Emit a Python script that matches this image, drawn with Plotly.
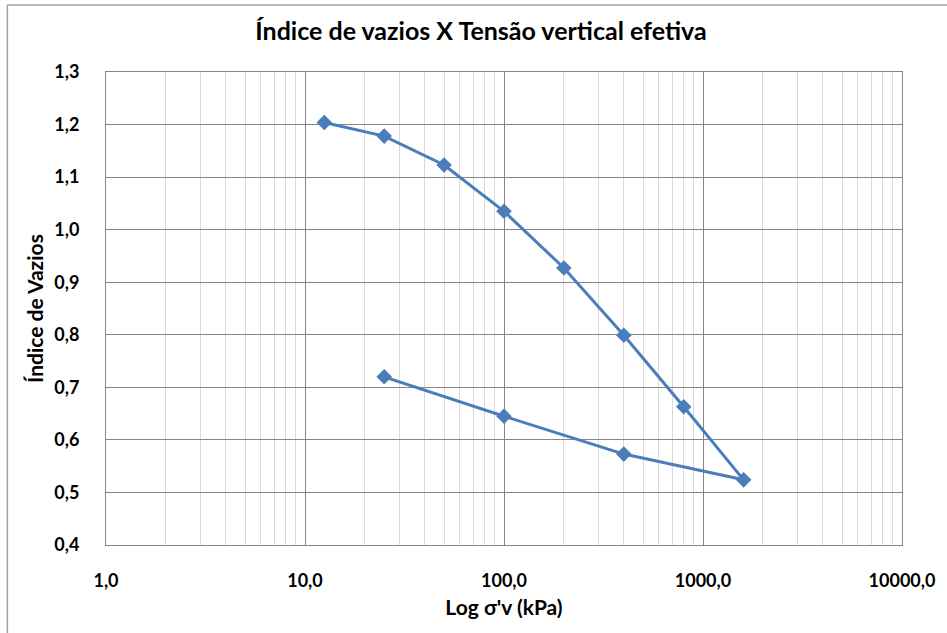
import plotly.graph_objects as go

# Data
tensao = [12.5, 25, 50, 100, 200, 400, 800, 1600, 400, 100, 25]
indice_vazios = [1.204, 1.178, 1.123, 1.035, 0.927, 0.799, 0.663, 0.524, 0.573, 0.645, 0.720]

x_tick_vals = [1, 10, 100, 1000, 10000]
x_tick_text = ["1,0", "10,0", "100,0", "1000,0", "10000,0"]
y_tick_vals = [0.4, 0.5, 0.6, 0.7, 0.8, 0.9, 1.0, 1.1, 1.2, 1.3]
y_tick_text = ["0,4", "0,5", "0,6", "0,7", "0,8", "0,9", "1,0", "1,1", "1,2", "1,3"]

title_text = "Índice de vazios X Tensão vertical efetiva"
x_title = "Log σ'v (kPa)"
y_title = "Índice de Vazios"

W, H = 947, 633
L, R, T, B = 106, 42, 72, 88
pw, ph = W - L - R, H - T - B

blue = "#4A7EBB"
major = "#868686"
minor = "#d9d9d9"
font_family = "Lato, Carlito, Liberation Sans Narrow, sans-serif"

fig = go.Figure()
fig.add_trace(go.Scatter(
    x=tensao, y=indice_vazios, mode="lines+markers",
    line=dict(color=blue, width=3),
    marker=dict(symbol="diamond", size=12, color=blue),
    showlegend=False, cliponaxis=False,
))

def px_to_paper_x(px):
    return (px - L) / pw

def py_to_paper_y(py):
    return (H - B - py) / ph

fig.update_layout(
    width=W, height=H,
    margin=dict(l=L, r=R, t=T, b=B),
    paper_bgcolor="white", plot_bgcolor="white",
    font=dict(family=font_family, color="#000000", size=18, weight="bold"),
    title=dict(text=title_text, x=481 / W, xanchor="center", xref="container",
               y=1 - 31 / H, yanchor="middle", yref="container",
               font=dict(size=25, family=font_family, weight="bold")),
    xaxis=dict(
        type="log", range=[0, 4],
        tickvals=x_tick_vals, ticktext=x_tick_text,
        showgrid=True, gridcolor=major, gridwidth=1,
        minor=dict(dtick="D1", showgrid=True, gridcolor=minor, gridwidth=1, ticks=""),
        showline=True, linecolor=major, linewidth=1, mirror=True,
        ticks="", ticklabelstandoff=19,
        zeroline=False,
        title=dict(text=x_title, standoff=10, font=dict(size=21, weight="bold")),
        tickfont=dict(size=18, weight="bold"),
    ),
    yaxis=dict(
        range=[0.4, 1.3],
        tickvals=y_tick_vals, ticktext=y_tick_text,
        showgrid=True, gridcolor=major, gridwidth=1,
        showline=True, linecolor=major, linewidth=1, mirror=True,
        ticks="", ticklabelstandoff=22,
        zeroline=False,
        title=dict(text=y_title, standoff=4, font=dict(size=21, weight="bold")),
        tickfont=dict(size=18, weight="bold"),
    ),
    shapes=[
        dict(type="line", xref="paper", yref="paper",
             x0=px_to_paper_x(7), x1=px_to_paper_x(7),
             y0=py_to_paper_y(5), y1=py_to_paper_y(H + 5),
             line=dict(color="#a0a0a0", width=1.5)),
        dict(type="line", xref="paper", yref="paper",
             x0=px_to_paper_x(7), x1=px_to_paper_x(W + 5),
             y0=py_to_paper_y(5), y1=py_to_paper_y(5),
             line=dict(color="#a0a0a0", width=1.5)),
    ],
)

fig.write_html("out.html")
